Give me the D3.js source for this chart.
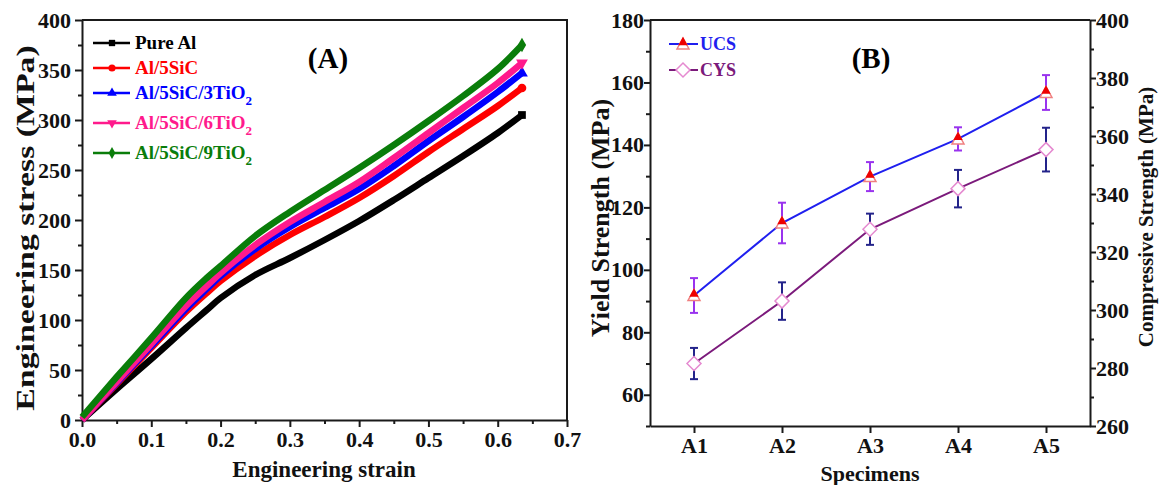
<!DOCTYPE html>
<html>
<head>
<meta charset="utf-8">
<script src="https://cdn.jsdelivr.net/npm/d3@7"></script>
<style>
  body { margin: 0; background: #fff; }
  svg text { font-family: "Liberation Serif", "Times New Roman", serif; font-weight: bold; }
</style>
</head>
<body>
<svg id="fig" width="1161" height="485"></svg>
<script>
// ---------- Panel A: engineering stress–strain curves ----------
const strain = [0, 0.05, 0.10, 0.15, 0.18, 0.20, 0.25, 0.30, 0.35, 0.40, 0.45, 0.50, 0.55, 0.60, 0.635];
const stressPureAl   = [0, 31, 61, 92, 110, 122, 145, 162, 180, 199, 220, 242, 264, 287, 305];
const stressAl5SiC   = [0, 36, 72, 108, 127, 139, 164, 185, 203, 222, 244, 268, 291, 314, 332];
const stressAl3TiO2  = [0, 37, 74, 111, 131, 144, 171, 193, 212, 231, 254, 279, 303, 328, 347];
const stressAl6TiO2  = [0, 38, 76, 114, 134, 147, 175, 198, 218, 238, 262, 287, 312, 337, 357];
const stressAl9TiO2  = [3, 43, 82, 122, 142, 154, 184, 208, 230, 252, 275, 299, 324, 351, 375];
const seriesNamesA   = ["Pure Al", "Al/5SiC", "Al/5SiC/3TiO", "Al/5SiC/6TiO", "Al/5SiC/9TiO"];
const seriesSubA     = ["", "", "2", "2", "2"];
const seriesColorsA  = ["#000000", "#ff0000", "#0000ff", "#ff1a8c", "#0a7d0a"];
const seriesSymbolsA = ["square", "circle", "triUp", "triDown", "diamond"];
const strainTicks = [0, 0.1, 0.2, 0.3, 0.4, 0.5, 0.6, 0.7];
const strainMinor = [0.05, 0.15, 0.25, 0.35, 0.45, 0.55, 0.65];
const stressTicks = [0, 50, 100, 150, 200, 250, 300, 350, 400];
const stressMinor = [25, 75, 125, 175, 225, 275, 325, 375];

// ---------- Panel B: strength per specimen ----------
const specimens = ["A1", "A2", "A3", "A4", "A5"];
const ucs    = [305, 330, 346, 359, 375];
const ucsErr = [6, 7, 5, 4, 6];
const cys    = [70, 90, 113, 126, 138.5];
const cysErr = [5, 6, 5, 6, 7];
const yieldTicks = [60, 80, 100, 120, 140, 160, 180];
const yieldMinor = [50, 70, 90, 110, 130, 150, 170];
const compTicks = [260, 280, 300, 320, 340, 360, 380, 400];
const compMinor = [270, 290, 310, 330, 350, 370, 390];

const svg = d3.select("#fig");
const AXIS = "#1a1a1a";

function styleAxis(g) {
  g.selectAll(".domain").attr("stroke", AXIS).attr("stroke-width", 2);
  g.selectAll(".tick line").attr("stroke", AXIS).attr("stroke-width", 2);
  g.selectAll(".tick text").attr("fill", "#111").style("font-size", "22px");
}

function symbolPath(kind, size) {
  const t = { square: d3.symbolSquare, circle: d3.symbolCircle, triUp: d3.symbolTriangle,
              triDown: d3.symbolTriangle, diamond: d3.symbolDiamond }[kind];
  return d3.symbol(t, size)();
}

// ===== Panel A =====
const A = { left: 82, right: 567, top: 20, bottom: 420 };
const xA = d3.scaleLinear().domain([0, 0.7]).range([A.left, A.right]);
const yA = d3.scaleLinear().domain([0, 400]).range([A.bottom, A.top]);

// frame (top & right)
svg.append("path")
  .attr("d", `M${A.left},${A.top}H${A.right}V${A.bottom}`)
  .attr("fill", "none").attr("stroke", AXIS).attr("stroke-width", 2);

svg.append("g").attr("transform", `translate(0,${A.bottom})`)
  .call(d3.axisBottom(xA).tickValues(strainMinor).tickSize(4).tickFormat(""))
  .call(g => { styleAxis(g); g.select(".domain").remove(); });
svg.append("g").attr("transform", `translate(0,${A.bottom})`)
  .call(d3.axisBottom(xA).tickValues(strainTicks).tickSize(7).tickSizeOuter(0).tickPadding(4).tickFormat(d3.format(".1f")))
  .call(styleAxis);

svg.append("g").attr("transform", `translate(${A.left},0)`)
  .call(d3.axisLeft(yA).tickValues(stressMinor).tickSize(4).tickFormat(""))
  .call(g => { styleAxis(g); g.select(".domain").remove(); });
svg.append("g").attr("transform", `translate(${A.left},0)`)
  .call(d3.axisLeft(yA).tickValues(stressTicks).tickSize(7).tickSizeOuter(0).tickPadding(4))
  .call(styleAxis);

svg.append("text").attr("x", 324).attr("y", 477)
  .attr("text-anchor", "middle").style("font-size", "23px").attr("fill", "#111")
  .text("Engineering strain");
// tall, narrow axis title running along the stress axis
svg.append("text").attr("transform", `translate(34,228) rotate(-90) scale(1.3,1)`)
  .attr("text-anchor", "middle").style("font-size", "26px").attr("fill", "#111")
  .text("Engineering stress (MPa)");

const curvesA = [stressPureAl, stressAl5SiC, stressAl3TiO2, stressAl6TiO2, stressAl9TiO2];
const lineA = d3.line().x(d => xA(d[0])).y(d => yA(d[1])).curve(d3.curveCatmullRom.alpha(0.5));
curvesA.forEach((vals, i) => {
  const pts = strain.map((s, j) => [s, vals[j]]);
  svg.append("path").datum(pts).attr("d", lineA)
    .attr("fill", "none").attr("stroke", seriesColorsA[i])
    .attr("stroke-width", 6.5).attr("stroke-linejoin", "round");
  const last = pts[pts.length - 1];
  svg.append("path").attr("d", symbolPath(seriesSymbolsA[i], 60))
    .attr("transform", `translate(${xA(last[0])},${yA(last[1])})${seriesSymbolsA[i] === "triDown" ? " rotate(180)" : ""}`)
    .attr("fill", seriesColorsA[i]);
});

// legend A
const legRowsA = [43, 68, 93, 123, 153];
seriesNamesA.forEach((name, i) => {
  const y = legRowsA[i];
  svg.append("line").attr("x1", 93).attr("x2", 130).attr("y1", y).attr("y2", y)
    .attr("stroke", seriesColorsA[i]).attr("stroke-width", 2.5);
  svg.append("path").attr("d", symbolPath(seriesSymbolsA[i], 40))
    .attr("transform", `translate(112,${y})${seriesSymbolsA[i] === "triDown" ? " rotate(180)" : ""}`)
    .attr("fill", seriesColorsA[i]);
  const t = svg.append("text").attr("x", 135).attr("y", y + 6)
    .style("font-size", "19px").attr("fill", seriesColorsA[i]).text(name);
  if (seriesSubA[i]) t.append("tspan").attr("dy", 6).style("font-size", "13px").text(seriesSubA[i]);
});
svg.append("text").attr("x", 328).attr("y", 68).attr("text-anchor", "middle")
  .style("font-size", "29px").attr("fill", "#000").text("(A)");

// ===== Panel B =====
const B = { left: 650, right: 1090, top: 20, bottom: 426 };
const xB = d3.scalePoint().domain(specimens).range([B.left, B.right]).padding(0.5);
const yL = d3.scaleLinear().domain([50, 180]).range([B.bottom, B.top]);
const yR = d3.scaleLinear().domain([260, 400]).range([B.bottom, B.top]);

svg.append("line").attr("x1", B.left).attr("x2", B.right).attr("y1", B.top).attr("y2", B.top)
  .attr("stroke", AXIS).attr("stroke-width", 2);

svg.append("g").attr("transform", `translate(0,${B.bottom})`)
  .call(d3.axisBottom(xB).tickSize(7).tickSizeOuter(0).tickPadding(4))
  .call(styleAxis);

svg.append("g").attr("transform", `translate(${B.left},0)`)
  .call(d3.axisLeft(yL).tickValues(yieldMinor).tickSize(4).tickFormat(""))
  .call(g => { styleAxis(g); g.select(".domain").remove(); });
svg.append("g").attr("transform", `translate(${B.left},0)`)
  .call(d3.axisLeft(yL).tickValues(yieldTicks).tickSize(6).tickSizeOuter(0).tickPadding(0))
  .call(styleAxis);

svg.append("g").attr("transform", `translate(${B.right},0)`)
  .call(d3.axisRight(yR).tickValues(compMinor).tickSize(4).tickFormat(""))
  .call(g => { styleAxis(g); g.select(".domain").remove(); });
svg.append("g").attr("transform", `translate(${B.right},0)`)
  .call(d3.axisRight(yR).tickValues(compTicks).tickSize(6).tickSizeOuter(0).tickPadding(0))
  .call(styleAxis);

svg.append("text").attr("x", 870).attr("y", 481)
  .attr("text-anchor", "middle").style("font-size", "22px").attr("fill", "#111").text("Specimens");
svg.append("text").attr("transform", `translate(609,218) rotate(-90)`)
  .attr("text-anchor", "middle").style("font-size", "26px").attr("fill", "#111").text("Yield Strength (MPa)");
svg.append("text").attr("transform", `translate(1153,217) rotate(-90)`)
  .attr("text-anchor", "middle").style("font-size", "21px").attr("fill", "#111").text("Compressive Strength (MPa)");

const UCS_LINE = "#1f1fef", CYS_LINE = "#7b1a7b";
const UCS_ERR = "#9933ee", CYS_ERR = "#23238a";

// lines
svg.append("path").datum(specimens.map((s, i) => [s, ucs[i]]))
  .attr("d", d3.line().x(d => xB(d[0])).y(d => yR(d[1])))
  .attr("fill", "none").attr("stroke", UCS_LINE).attr("stroke-width", 2);
svg.append("path").datum(specimens.map((s, i) => [s, cys[i]]))
  .attr("d", d3.line().x(d => xB(d[0])).y(d => yL(d[1])))
  .attr("fill", "none").attr("stroke", CYS_LINE).attr("stroke-width", 2);

// error bars
function errorBar(x, y1, y2, color) {
  const g = svg.append("g").attr("stroke", color).attr("stroke-width", 2);
  g.append("line").attr("x1", x).attr("x2", x).attr("y1", y1).attr("y2", y2);
  g.append("line").attr("x1", x - 4).attr("x2", x + 4).attr("y1", y1).attr("y2", y1);
  g.append("line").attr("x1", x - 4).attr("x2", x + 4).attr("y1", y2).attr("y2", y2);
}
specimens.forEach((s, i) => {
  errorBar(xB(s), yR(ucs[i] + ucsErr[i]), yR(ucs[i] - ucsErr[i]), UCS_ERR);
  errorBar(xB(s), yL(cys[i] + cysErr[i]), yL(cys[i] - cysErr[i]), CYS_ERR);
});

// markers: half-filled triangle and hollow diamond
function triMarker(x, y) {
  const g = svg.append("g").attr("transform", `translate(${x},${y})`);
  g.append("path").attr("d", "M0,-6L6,5H-6Z").attr("fill", "#fff").attr("stroke", "#f08080").attr("stroke-width", 1.5);
  g.append("path").attr("d", "M0,-6L3.6,0.6H-3.6Z").attr("fill", "#ee0000").attr("stroke", "#ee0000").attr("stroke-width", 1.2);
}
function diaMarker(x, y) {
  svg.append("path").attr("d", "M0,-7L7,0L0,7L-7,0Z")
    .attr("transform", `translate(${x},${y})`)
    .attr("fill", "#fff").attr("stroke", "#e58ad0").attr("stroke-width", 1.5);
}
specimens.forEach((s, i) => {
  triMarker(xB(s), yR(ucs[i]));
  diaMarker(xB(s), yL(cys[i]));
});

// legend B
svg.append("line").attr("x1", 669).attr("x2", 698).attr("y1", 44).attr("y2", 44).attr("stroke", UCS_LINE).attr("stroke-width", 2);
triMarker(683, 44);
svg.append("text").attr("x", 700).attr("y", 50).style("font-size", "18px").attr("fill", UCS_LINE).text("UCS");
svg.append("line").attr("x1", 669).attr("x2", 698).attr("y1", 70).attr("y2", 70).attr("stroke", CYS_LINE).attr("stroke-width", 2);
diaMarker(683, 70);
svg.append("text").attr("x", 700).attr("y", 76).style("font-size", "18px").attr("fill", CYS_LINE).text("CYS");
svg.append("text").attr("x", 871).attr("y", 68).attr("text-anchor", "middle")
  .style("font-size", "29px").attr("fill", "#000").text("(B)");
</script>
</body>
</html>
